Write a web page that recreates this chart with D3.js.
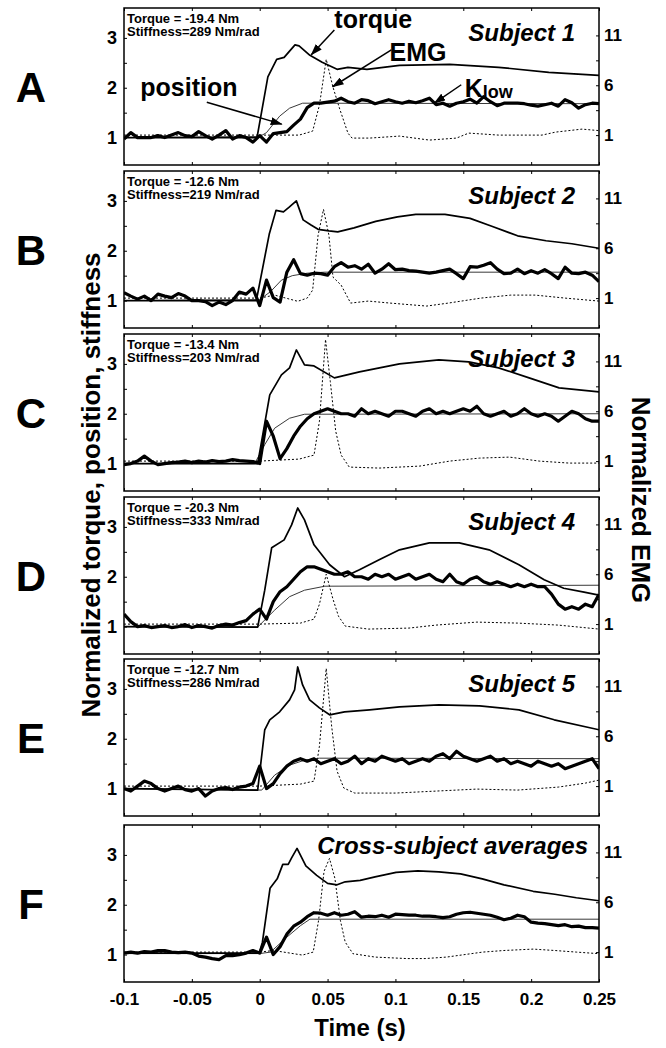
<!DOCTYPE html>
<html>
<head>
<meta charset="utf-8">
<script src="https://cdn.jsdelivr.net/npm/d3@7"></script>
<style>
  body { margin: 0; background: #fff; }
  svg { display: block; font-family: Arial, "Liberation Sans", Helvetica, sans-serif; }
</style>
</head>
<body>
<svg id="chart" width="666" height="1048"></svg>
<script>
// ---- data ----
const panelLetters = ["A", "B", "C", "D", "E", "F"]
const panelTitles = ["Subject 1", "Subject 2", "Subject 3", "Subject 4", "Subject 5", "Cross-subject averages"]
const torqueLabels = ["Torque = -19.4 Nm", "Torque = -12.6 Nm", "Torque = -13.4 Nm", "Torque = -20.3 Nm", "Torque = -12.7 Nm", null]
const stiffLabels = ["Stiffness=289 Nm/rad", "Stiffness=219 Nm/rad", "Stiffness=203 Nm/rad", "Stiffness=333 Nm/rad", "Stiffness=286 Nm/rad", null]

const xTicks = [-0.1, -0.05, 0, 0.05, 0.1, 0.15, 0.2, 0.25]
const xTickLabels = ["-0.1", "-0.05", "0", "0.05", "0.1", "0.15", "0.2", "0.25"]
const leftTicks = [1, 1.5, 2, 2.5, 3]
const rightTicks = [1, 3.5, 6, 8.5, 11]

// K_low is sampled every 5 ms from -0.1 to 0.25 s
const klowTime = d3.range(71).map(i => +(-0.1 + i * 0.005).toFixed(3))

const klowA = [0.97,1.1,1.0,1.0,1.0,1.04,1.0,1.05,1.1,1.04, 1.02,1.12,1.04,0.97,1.05,1.14,0.97,1.04,1.0,0.91,
  1.04,0.91,1.08,1.1,1.12,1.25,1.37,1.6,1.69,1.69, 1.71,1.73,1.79,1.72,1.69,1.76,1.74,1.68,1.72,1.76,
  1.72,1.69,1.73,1.7,1.74,1.79,1.66,1.69,1.63,1.69, 1.72,1.77,1.69,1.82,1.72,1.64,1.69,1.69,1.69,1.68,
  1.65,1.63,1.66,1.69,1.63,1.76,1.7,1.59,1.66,1.69, 1.68]
const klowB = [1.16,1.09,1.03,1.09,1.0,1.13,1.09,1.06,1.14,1.09, 1.0,1.0,0.98,0.9,0.97,0.92,1.0,1.17,1.13,1.25,
  0.9,1.41,1.06,0.97,1.57,1.82,1.54,1.51,1.55,1.54, 1.51,1.68,1.76,1.67,1.7,1.63,1.73,1.55,1.63,1.74,
  1.62,1.63,1.6,1.59,1.57,1.55,1.57,1.6,1.63,1.54, 1.44,1.68,1.67,1.71,1.76,1.63,1.54,1.55,1.63,1.54,
  1.6,1.55,1.62,1.54,1.44,1.67,1.55,1.54,1.57,1.51, 1.38]
const klowC = [0.98,1.0,1.05,1.15,1.05,0.98,1.0,1.02,1.03,1.05, 1.02,1.05,1.03,1.06,1.04,1.05,1.08,1.06,1.05,1.04,
  1.0,1.85,1.55,1.1,1.3,1.55,1.75,1.9,2.0,2.05, 2.1,2.05,2.0,2.0,1.95,2.1,2.0,2.05,2.0,1.95,
  2.05,2.05,2.0,1.95,2.05,2.1,2.0,2.05,2.0,2.05, 2.1,2.05,2.15,2.0,1.95,2.0,2.05,1.95,2.0,2.1,
  2.0,1.95,2.0,1.95,1.85,1.95,2.05,2.0,1.9,1.85, 1.85]
const klowD = [1.25,1.1,1.0,1.02,0.98,1.0,1.02,0.98,1.0,1.04, 0.98,1.02,1.0,0.97,1.02,1.05,1.03,1.08,1.12,1.25,
  1.35,1.15,1.5,1.7,1.8,1.95,2.1,2.2,2.2,2.15, 2.1,2.05,2.05,2.1,2.0,2.0,1.95,2.05,2.0,2.05,
  1.95,2.0,2.05,1.95,2.0,2.05,1.95,1.9,2.05,1.9, 1.85,1.95,2.0,1.9,1.85,1.9,1.85,1.8,1.85,1.8,
  1.85,1.8,1.8,1.65,1.45,1.35,1.4,1.35,1.45,1.4, 1.65]
const klowE = [1.0,0.95,1.05,1.15,1.1,1.0,0.95,1.0,1.05,0.98, 0.95,1.0,0.85,0.95,1.0,1.02,0.98,1.03,1.05,1.1,
  1.45,1.0,1.1,1.3,1.45,1.55,1.6,1.55,1.6,1.5, 1.55,1.6,1.5,1.55,1.65,1.5,1.6,1.55,1.65,1.6,
  1.55,1.6,1.5,1.55,1.6,1.55,1.65,1.7,1.6,1.75, 1.65,1.6,1.55,1.6,1.65,1.55,1.6,1.5,1.55,1.5,
  1.45,1.55,1.5,1.45,1.5,1.4,1.45,1.5,1.55,1.6, 1.4]
const klowF = [1.03,1.05,1.03,1.06,1.05,1.08,1.08,1.05,1.04,1.05, 1.03,0.97,0.95,0.92,0.9,0.98,0.98,1.0,1.03,1.08,
  1.03,1.35,1.0,1.16,1.41,1.57,1.65,1.76,1.84,1.83, 1.79,1.84,1.79,1.81,1.86,1.75,1.77,1.76,1.79,1.75,
  1.81,1.8,1.79,1.79,1.77,1.77,1.76,1.74,1.76,1.81, 1.84,1.85,1.83,1.81,1.79,1.75,1.7,1.73,1.79,1.76,
  1.65,1.63,1.62,1.6,1.58,1.6,1.56,1.57,1.54,1.54, 1.53]

// torque, position: [time, normalized value]
const torqueA = [[-0.1,1.0],[-0.002,1.0],[0.006,2.22],[0.0125,2.57],[0.018,2.61],[0.026,2.86],[0.029,2.84],[0.037,2.65],
  [0.046,2.51],[0.057,2.37],[0.065,2.41],[0.079,2.37],[0.103,2.45],[0.14,2.47],[0.176,2.41],[0.213,2.31],[0.25,2.25]]
const torqueB = [[-0.1,1.0],[-0.0025,1.0],[0.007,2.33],[0.012,2.81],[0.0175,2.78],[0.0215,2.87],[0.027,3.0],[0.032,2.62],
  [0.0375,2.52],[0.043,2.43],[0.051,2.4],[0.0575,2.38],[0.0695,2.46],[0.0855,2.59],[0.1015,2.68],[0.115,2.73],
  [0.1365,2.73],[0.155,2.65],[0.171,2.49],[0.19,2.3],[0.211,2.2],[0.23,2.14],[0.25,2.05]]
const torqueC = [[-0.1,1.0],[-0.0015,1.0],[0.0074,2.38],[0.016,2.78],[0.022,2.92],[0.027,3.28],[0.033,2.98],[0.04,2.96],
  [0.055,2.72],[0.0735,2.84],[0.103,3.0],[0.132,3.08],[0.154,3.04],[0.176,2.92],[0.1985,2.72],[0.2206,2.52],[0.25,2.44]]
const torqueD = [[-0.1,1.0],[-0.0015,0.99],[0.0037,1.73],[0.0088,2.58],[0.018,2.74],[0.0235,3.04],[0.028,3.38],[0.033,3.14],
  [0.04,2.64],[0.0515,2.24],[0.0625,2.0],[0.0735,2.14],[0.088,2.34],[0.103,2.54],[0.125,2.68],[0.147,2.68],
  [0.169,2.54],[0.191,2.24],[0.2096,1.94],[0.224,1.77],[0.239,1.69],[0.25,1.63]]
const torqueE = [[-0.1,1.0],[-0.0015,0.97],[0.0037,2.18],[0.0074,2.38],[0.0147,2.54],[0.022,2.78],[0.0257,2.98],[0.028,3.44],
  [0.0316,3.08],[0.0368,2.78],[0.044,2.62],[0.0515,2.48],[0.0625,2.54],[0.081,2.58],[0.103,2.64],[0.132,2.68],
  [0.162,2.66],[0.191,2.58],[0.217,2.38],[0.25,2.18]]
const torqueF = [[-0.1,1.03],[-0.0004,1.03],[0.002,1.25],[0.0076,2.33],[0.0129,2.52],[0.017,2.81],[0.021,2.81],[0.0235,2.94],
  [0.0275,3.13],[0.034,2.78],[0.042,2.59],[0.05,2.43],[0.057,2.4],[0.063,2.46],[0.074,2.49],[0.085,2.56],
  [0.1005,2.65],[0.1165,2.68],[0.132,2.66],[0.148,2.62],[0.164,2.52],[0.18,2.4],[0.2015,2.27],[0.2174,2.21],
  [0.2333,2.14],[0.25,2.08]]

const positionA = [[-0.1,1.0],[0.0,1.02],[0.005,1.1],[0.0147,1.43],[0.022,1.59],[0.0316,1.69],[0.25,1.68]]
const positionB = [[-0.1,1.0],[0.0,1.02],[0.008,1.18],[0.016,1.41],[0.024,1.5],[0.035,1.55],[0.048,1.57],[0.25,1.57]]
const positionC = [[-0.1,1.0],[-0.0037,1.0],[0.0037,1.38],[0.011,1.71],[0.022,1.91],[0.033,1.99],[0.25,2.0]]
const positionD = [[-0.1,1.0],[-0.0015,0.99],[0.011,1.33],[0.022,1.6],[0.033,1.73],[0.048,1.81],[0.25,1.83]]
const positionE = [[-0.1,1.0],[0.0015,0.97],[0.011,1.27],[0.022,1.47],[0.033,1.57],[0.044,1.61],[0.25,1.6]]
const positionF = [[-0.1,1.02],[0.0,1.02],[0.008,1.05],[0.02,1.35],[0.03,1.58],[0.037,1.71],[0.25,1.71]]

// EMG on the right hand axis: [time, normalized EMG]
const emgA = [[-0.1,1.0],[0.029,1.0],[0.039,1.4],[0.044,4.0],[0.049,8.6],[0.054,5.8],[0.059,3.6],[0.065,1.2],[0.068,0.7],
  [0.081,0.7],[0.103,0.9],[0.125,0.5],[0.145,0.7],[0.154,1.2],[0.176,1.0],[0.208,1.0],[0.218,1.3],[0.2375,1.6],[0.25,1.45]]
const emgB = [[-0.1,1.0],[0.0,1.0],[0.011,1.3],[0.028,0.68],[0.035,1.0],[0.039,1.8],[0.043,7.3],[0.047,9.9],[0.051,7.3],
  [0.054,3.1],[0.06,2.3],[0.067,0.5],[0.08,0.7],[0.096,0.5],[0.123,0.2],[0.139,0.5],[0.163,1.0],[0.185,1.3],
  [0.203,1.3],[0.225,1.0],[0.25,0.7]]
const emgC = [[-0.1,1.0],[0.0,1.0],[0.029,1.2],[0.04,1.6],[0.044,5.0],[0.0485,13.2],[0.052,9.0],[0.056,4.0],[0.06,1.6],
  [0.066,0.4],[0.088,0.3],[0.118,0.5],[0.14,1.0],[0.162,1.3],[0.184,1.4],[0.206,1.0],[0.228,0.8],[0.25,0.8]]
const emgD = [[-0.1,1.0],[0.0,1.0],[0.03,1.1],[0.04,1.5],[0.044,3.0],[0.049,6.0],[0.054,3.5],[0.058,1.8],[0.063,0.8],
  [0.08,0.5],[0.11,0.6],[0.13,0.9],[0.16,1.2],[0.19,1.1],[0.22,0.9],[0.25,0.5]]
const emgE = [[-0.1,1.0],[0.0,1.0],[0.03,1.2],[0.04,1.5],[0.044,5.0],[0.049,12.8],[0.053,7.0],[0.057,2.5],[0.062,0.8],
  [0.07,0.3],[0.1,0.3],[0.13,0.5],[0.16,0.7],[0.19,0.6],[0.22,0.9],[0.24,1.3],[0.25,1.6]]
const emgF = [[-0.1,1.0],[0.0,1.0],[0.0102,1.16],[0.0315,0.7],[0.0394,1.0],[0.0434,4.2],[0.0474,9.1],[0.0514,10.4],
  [0.0554,8.4],[0.0594,4.2],[0.063,2.0],[0.0687,0.84],[0.085,0.5],[0.1085,0.35],[0.1218,0.35],[0.1377,0.5],
  [0.1643,1.0],[0.18,1.16],[0.2015,1.3],[0.2174,1.16],[0.2333,1.0],[0.25,0.84]]

const klows = [klowA, klowB, klowC, klowD, klowE, klowF]
const torques = [torqueA, torqueB, torqueC, torqueD, torqueE, torqueF]
const positions = [positionA, positionB, positionC, positionD, positionE, positionF]
const emgs = [emgA, emgB, emgC, emgD, emgE, emgF]

// ---- layout ----
const svg = d3.select("#chart")
const panelTops = [8, 171, 334, 497, 659, 825]
const panelH = 157
const left = 124, right = 599

const x = d3.scaleLinear().domain([-0.1, 0.25]).range([left, right])

svg.append("defs").append("marker")
  .attr("id", "arrowHead")
  .attr("viewBox", "0 0 12 8")
  .attr("refX", 11).attr("refY", 4)
  .attr("markerWidth", 12).attr("markerHeight", 8)
  .attr("markerUnits", "userSpaceOnUse")
  .attr("orient", "auto")
  .append("path").attr("d", "M0,0L12,4L0,8z").attr("fill", "#000")

function styleAxis(g, size) {
  g.attr("font-family", null).attr("font-size", null)
  g.select(".domain").remove()
  g.selectAll(".tick line").attr("stroke", "#000").attr("stroke-width", 1)
  g.selectAll(".tick text").attr("fill", "#000").style("font-size", size + "px").style("font-weight", "bold")
}

panelTops.forEach((top, p) => {
  const yL = d3.scaleLinear().domain([0.45, 3.6]).range([top + panelH, top])
  const yR = d3.scaleLinear().domain([-2, 13.75]).range([top + panelH, top])
  const g = svg.append("g")

  g.append("clipPath").attr("id", "clip" + p)
    .append("rect").attr("x", left).attr("y", top).attr("width", right - left).attr("height", panelH)

  // axes, ticks pointing into the box
  g.append("g").attr("transform", "translate(" + left + ",0)")
    .call(d3.axisLeft(yL).tickValues(leftTicks).tickSize(-3).tickPadding(7)
      .tickFormat(d => Number.isInteger(d) ? d : ""))
    .call(a => styleAxis(a, 18))
  g.append("g").attr("transform", "translate(" + right + ",0)")
    .call(d3.axisRight(yR).tickValues(rightTicks).tickSize(-3).tickPadding(5)
      .tickFormat(d => [1, 6, 11].includes(d) ? d : ""))
    .call(a => styleAxis(a, 17))
  g.append("g").attr("transform", "translate(0," + top + ")")
    .call(d3.axisTop(x).tickValues(xTicks).tickSize(-3).tickFormat(""))
    .call(a => styleAxis(a, 17))
  g.append("g").attr("transform", "translate(0," + (top + panelH) + ")")
    .call(d3.axisBottom(x).tickValues(xTicks).tickSize(-3).tickPadding(11)
      .tickFormat((d, i) => p === 5 ? xTickLabels[i] : ""))
    .call(a => styleAxis(a, 17))

  const plot = g.append("g").attr("clip-path", "url(#clip" + p + ")")
  const lineL = d3.line().x(d => x(d[0])).y(d => yL(d[1]))
  const lineR = d3.line().x(d => x(d[0])).y(d => yR(d[1]))

  plot.append("path").datum(emgs[p]).attr("d", lineR)
    .attr("fill", "none").attr("stroke", "#000").attr("stroke-width", 1).attr("stroke-dasharray", "2,2")
  plot.append("path").datum(positions[p]).attr("d", lineL)
    .attr("fill", "none").attr("stroke", "#222").attr("stroke-width", 0.9)
  plot.append("path").datum(torques[p]).attr("d", lineL)
    .attr("fill", "none").attr("stroke", "#000").attr("stroke-width", 1.7).attr("stroke-linejoin", "round")
  plot.append("path").datum(klows[p].map((v, i) => [klowTime[i], v])).attr("d", lineL)
    .attr("fill", "none").attr("stroke", "#000").attr("stroke-width", 3.2).attr("stroke-linejoin", "round")

  g.append("rect").attr("x", left).attr("y", top).attr("width", right - left).attr("height", panelH)
    .attr("fill", "none").attr("stroke", "#000").attr("stroke-width", 1.5)

  // texts
  g.append("text").attr("x", 31).attr("y", top + panelH / 2 + 15)
    .attr("text-anchor", "middle").style("font-size", "42px").style("font-weight", "bold")
    .text(panelLetters[p])
  if (torqueLabels[p]) {
    g.append("text").attr("x", left + 3).attr("y", top + 15)
      .style("font-size", "13px").style("font-weight", "bold").text(torqueLabels[p])
    g.append("text").attr("x", left + 3).attr("y", top + 28)
      .style("font-size", "13px").style("font-weight", "bold").text(stiffLabels[p])
  }
  g.append("text")
    .attr("x", p === 5 ? right - 11 : right - 24)
    .attr("y", p === 5 ? top + 29 : top + 33)
    .attr("text-anchor", "end")
    .style("font-size", "24px").style("font-weight", "bold").style("font-style", "italic")
    .text(panelTitles[p])

  // annotations of the first panel
  if (p === 0) {
    const notes = [
      {label: "torque", at: [0.055, 3.2], from: [0.055, 3.16], to: [0.038, 2.66]},
      {label: "EMG", at: [0.0956, 2.54], from: [0.097, 2.76], to: [0.0537, 2.02]},
      {label: "position", at: [-0.088, 1.83], from: [-0.039, 1.71], to: [0.0162, 1.27]},
      {label: "K", sub: "low", at: [0.151, 1.81], from: [0.1485, 2.06], to: [0.1287, 1.69]}
    ]
    notes.forEach(n => {
      g.append("line")
        .attr("x1", x(n.from[0])).attr("y1", yL(n.from[1]))
        .attr("x2", x(n.to[0])).attr("y2", yL(n.to[1]))
        .attr("stroke", "#000").attr("stroke-width", 1.5).attr("marker-end", "url(#arrowHead)")
      const t = g.append("text").attr("x", x(n.at[0])).attr("y", yL(n.at[1]))
        .style("font-size", "25px").style("font-weight", "bold").text(n.label)
      if (n.sub) t.append("tspan").attr("dy", 1).style("font-size", "18px").text(n.sub)
    })
  }
})

// axis titles
svg.append("text")
  .attr("transform", "translate(100,485) rotate(-90)")
  .attr("text-anchor", "middle")
  .style("font-size", "26px").style("font-weight", "bold")
  .text("Normalized torque, position, stiffness")
svg.append("text")
  .attr("transform", "translate(632,500) rotate(90)")
  .attr("text-anchor", "middle")
  .style("font-size", "26px").style("font-weight", "bold")
  .text("Normalized EMG")
svg.append("text")
  .attr("x", 360).attr("y", 1036)
  .attr("text-anchor", "middle")
  .style("font-size", "24px").style("font-weight", "bold")
  .text("Time (s)")
</script>
</body>
</html>
